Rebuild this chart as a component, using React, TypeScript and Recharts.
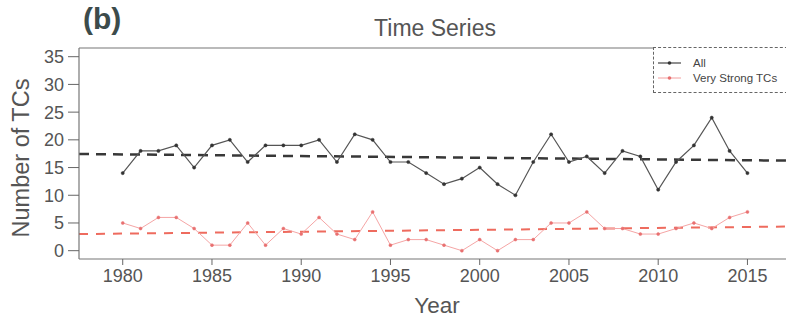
import React from "react";
import { LineChart, Line, XAxis, YAxis, ReferenceLine } from "recharts";

const years = [
  1980, 1981, 1982, 1983, 1984, 1985, 1986, 1987, 1988, 1989, 1990, 1991,
  1992, 1993, 1994, 1995, 1996, 1997, 1998, 1999, 2000, 2001, 2002, 2003,
  2004, 2005, 2006, 2007, 2008, 2009, 2010, 2011, 2012, 2013, 2014, 2015,
];
const allTCs = [
  14, 18, 18, 19, 15, 19, 20, 16, 19, 19, 19, 20, 16, 21, 20, 16, 16, 14, 12,
  13, 15, 12, 10, 16, 21, 16, 17, 14, 18, 17, 11, 16, 19, 24, 18, 14,
];
const veryStrongTCs = [
  5, 4, 6, 6, 4, 1, 1, 5, 1, 4, 3, 6, 3, 2, 7, 1, 2, 2, 1, 0, 2, 0, 2, 2, 5, 5,
  7, 4, 4, 3, 3, 4, 5, 4, 6, 7,
];

// linear trend end points (at the left and right edge of the plot)
const trendYears = [1977.55, 2017.16];
const allTrend = [17.45, 16.25];
const strongTrend = [3.0, 4.35];

const xTicks = [1980, 1985, 1990, 1995, 2000, 2005, 2010, 2015];
const yTicks = [0, 5, 10, 15, 20, 25, 30, 35];

const data = years.map((year, i) => ({
  year,
  all: allTCs[i],
  strong: veryStrongTCs[i],
}));

const xDomain: [number, number] = [trendYears[0], trendYears[1]];
const yDomain: [number, number] = [-1.5, 36.57];

const textGray = "#555";
const font = "'Liberation Sans', Arial, sans-serif";

const LegendBox = () => (
  <div
    style={{
      position: "absolute",
      left: 653,
      top: 47,
      width: 140,
      height: 46,
      border: "1px dashed #666",
      borderRight: "none",
      background: "#fff",
      boxSizing: "border-box",
    }}
  >
    <svg width={140} height={44} style={{ display: "block" }}>
      <line x1={4} x2={27} y1={15} y2={15} stroke="#444" strokeWidth={1.2} />
      <circle cx={15.5} cy={15} r={1.8} fill="#333" />
      <text x={39} y={19} fill="#444" fontSize={11.5} fontFamily={font}>
        All
      </text>
      <line x1={4} x2={27} y1={30} y2={30} stroke="#f3a0a0" strokeWidth={1} />
      <circle cx={15.5} cy={30} r={1.8} fill="#e87070" />
      <text x={39} y={34} fill="#444" fontSize={11.5} fontFamily={font}>
        Very Strong TCs
      </text>
    </svg>
  </div>
);

const App: React.FC = () => {
  return (
    <div
      style={{
        position: "absolute",
        left: 0,
        top: 0,
        width: 786,
        height: 321,
        background: "#fff",
        overflow: "hidden",
        fontFamily: font,
      }}
    >
      <LineChart
        width={800}
        height={321}
        data={data}
        margin={{ top: 48, right: 14, bottom: 0, left: 0 }}
      >
        <XAxis
          dataKey="year"
          type="number"
          domain={xDomain}
          ticks={xTicks}
          interval={0}
          allowDataOverflow
          height={62}
          tickSize={6}
          tickMargin={4}
          axisLine={{ stroke: "#777", strokeWidth: 1.2 }}
          tickLine={{ stroke: "#666" }}
          tick={{ fill: textGray, fontSize: 18, fontFamily: font }}
        />
        <YAxis
          type="number"
          domain={yDomain}
          ticks={yTicks}
          interval={0}
          allowDataOverflow
          width={79}
          tickSize={11}
          tickMargin={4}
          axisLine={{ stroke: "#777", strokeWidth: 1.2 }}
          tickLine={{ stroke: "#666" }}
          tick={{ fill: textGray, fontSize: 18, fontFamily: font }}
        />
        {/* top frame */}
        <ReferenceLine y={yDomain[1]} stroke="#777" strokeWidth={1.2} />
        <ReferenceLine
          segment={[
            { x: trendYears[0], y: allTrend[0] },
            { x: trendYears[1], y: allTrend[1] },
          ]}
          stroke="#383838"
          strokeWidth={2.5}
          strokeDasharray="10 7"
          ifOverflow="visible"
        />
        <ReferenceLine
          segment={[
            { x: trendYears[0], y: strongTrend[0] },
            { x: trendYears[1], y: strongTrend[1] },
          ]}
          stroke="#ee6b5e"
          strokeWidth={2}
          strokeDasharray="9 8"
          ifOverflow="visible"
        />
        <Line
          dataKey="all"
          name="All"
          stroke="#555"
          strokeWidth={1.2}
          dot={{ r: 1.6, fill: "#333", stroke: "#333", strokeWidth: 0.5 }}
          isAnimationActive={false}
        />
        <Line
          dataKey="strong"
          name="Very Strong TCs"
          stroke="#f5a5a5"
          strokeWidth={1}
          dot={{ r: 1.5, fill: "#e87070", stroke: "#e87070", strokeWidth: 0.5 }}
          isAnimationActive={false}
        />
      </LineChart>

      <LegendBox />

      <div
        style={{
          position: "absolute",
          left: 83,
          top: 2,
          fontSize: 30,
          fontWeight: "bold",
          color: "#3c4b4b",
        }}
      >
        (b)
      </div>
      <div
        style={{
          position: "absolute",
          left: 435,
          top: 28,
          transform: "translate(-50%, -50%)",
          fontSize: 23,
          color: textGray,
          whiteSpace: "nowrap",
        }}
      >
        Time Series
      </div>
      <div
        style={{
          position: "absolute",
          left: 437,
          top: 306,
          transform: "translate(-50%, -50%)",
          fontSize: 22.5,
          color: textGray,
          whiteSpace: "nowrap",
        }}
      >
        Year
      </div>
      <div
        style={{
          position: "absolute",
          left: 21,
          top: 158,
          transform: "translate(-50%, -50%) rotate(-90deg)",
          fontSize: 23.5,
          color: textGray,
          whiteSpace: "nowrap",
        }}
      >
        Number of TCs
      </div>
    </div>
  );
};

export default App;
